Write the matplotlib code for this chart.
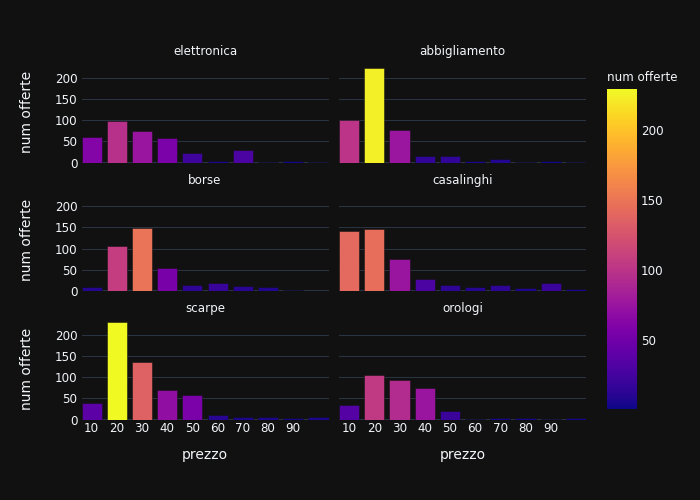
import numpy as np
import matplotlib
matplotlib.use("Agg")
import matplotlib.pyplot as plt
from matplotlib import cm, colors

plt.rcParams['font.family'] = ['DejaVu Sans']

# data
prezzo = [10, 20, 30, 40, 50, 60, 70, 80, 90, 100]
categorie = ['elettronica', 'abbigliamento', 'borse', 'casalinghi', 'scarpe', 'orologi']
elettronica = [61, 98, 75, 57, 22, 5, 29, 2, 3, 1]
abbigliamento = [100, 224, 76, 16, 16, 5, 9, 1, 3, 2]
borse = [10, 107, 149, 55, 15, 19, 12, 9, 3, 1]
casalinghi = [141, 145, 75, 29, 14, 10, 15, 8, 20, 5]
scarpe = [39, 229, 135, 70, 57, 11, 6, 6, 3, 6]
orologi = [34, 105, 93, 75, 20, 2, 4, 4, 2, 4]
serie = [elettronica, abbigliamento, borse, casalinghi, scarpe, orologi]
xtick_labels = [10, 20, 30, 40, 50, 60, 70, 80, 90]

BG = '#111111'
GRID = '#283442'
TXT = '#f2f5fa'
W, H = 700, 500

all_vals = np.concatenate([np.array(s, dtype=float) for s in serie])
norm = colors.Normalize(vmin=all_vals.min(), vmax=all_vals.max())
cmap = plt.get_cmap('plasma')

fig = plt.figure(figsize=(7, 5), dpi=100, facecolor=BG)

# panel boxes in pixels (left, top, right, bottom)
col_x = [(81.5, 328.5), (339, 586)]
row_y = [(60.3, 162.7), (188.6, 291.0), (317.3, 419.7)]
ymax = max(all_vals) * 1.0526

for i, (cat, vals) in enumerate(zip(categorie, serie)):
    r, c = divmod(i, 2)
    x0, x1 = col_x[c]
    t, b = row_y[r]
    ax = fig.add_axes([x0 / W, 1 - b / H, (x1 - x0) / W, (b - t) / H])
    ax.set_facecolor(BG)
    ax.bar(prezzo, vals, width=8, color=cmap(norm(np.array(vals))),
           edgecolor=BG, linewidth=0.36, zorder=3)
    ax.set_xlim(6, 104)
    ax.set_ylim(0, ymax)
    ax.set_yticks([0, 50, 100, 150, 200])
    ax.grid(axis='y', color=GRID, linewidth=0.72, zorder=0)
    ax.axhline(0, color=GRID, linewidth=1.44, zorder=1)
    for s in ax.spines.values():
        s.set_visible(False)
    ax.tick_params(length=0, colors=TXT, labelsize=8.6, pad=3)
    if c == 1:
        ax.tick_params(labelleft=False)
    if r == 2:
        ax.set_xticks(xtick_labels)
        ax.tick_params(axis='x', pad=2)
        fig.text((x0 + x1) / 2 / W, 1 - 455 / H, 'prezzo', color=TXT,
                 fontsize=10, ha='center', va='center')
    else:
        ax.set_xticks([])
    if c == 0:
        fig.text(27 / W, 1 - (t + b) / 2 / H, 'num offerte', color=TXT,
                 fontsize=10, rotation=90, ha='center', va='center')
    fig.text((x0 + x1) / 2 / W, 1 - (t - 8.5) / H, cat, color=TXT,
             fontsize=8.6, ha='center', va='center')

# colorbar
cax = fig.add_axes([607 / W, 1 - 409 / H, 30 / W, 320 / H])
cb = fig.colorbar(cm.ScalarMappable(norm=norm, cmap=cmap), cax=cax)
cb.outline.set_visible(False)
cb.set_ticks([50, 100, 150, 200])
cax.tick_params(length=0, colors=TXT, labelsize=8.6, pad=3)
fig.text(607 / W, 1 - 77.3 / H, 'num offerte', color=TXT, fontsize=8.6,
         ha='left', va='center')

fig.savefig('out.png', dpi=100, facecolor=BG)
